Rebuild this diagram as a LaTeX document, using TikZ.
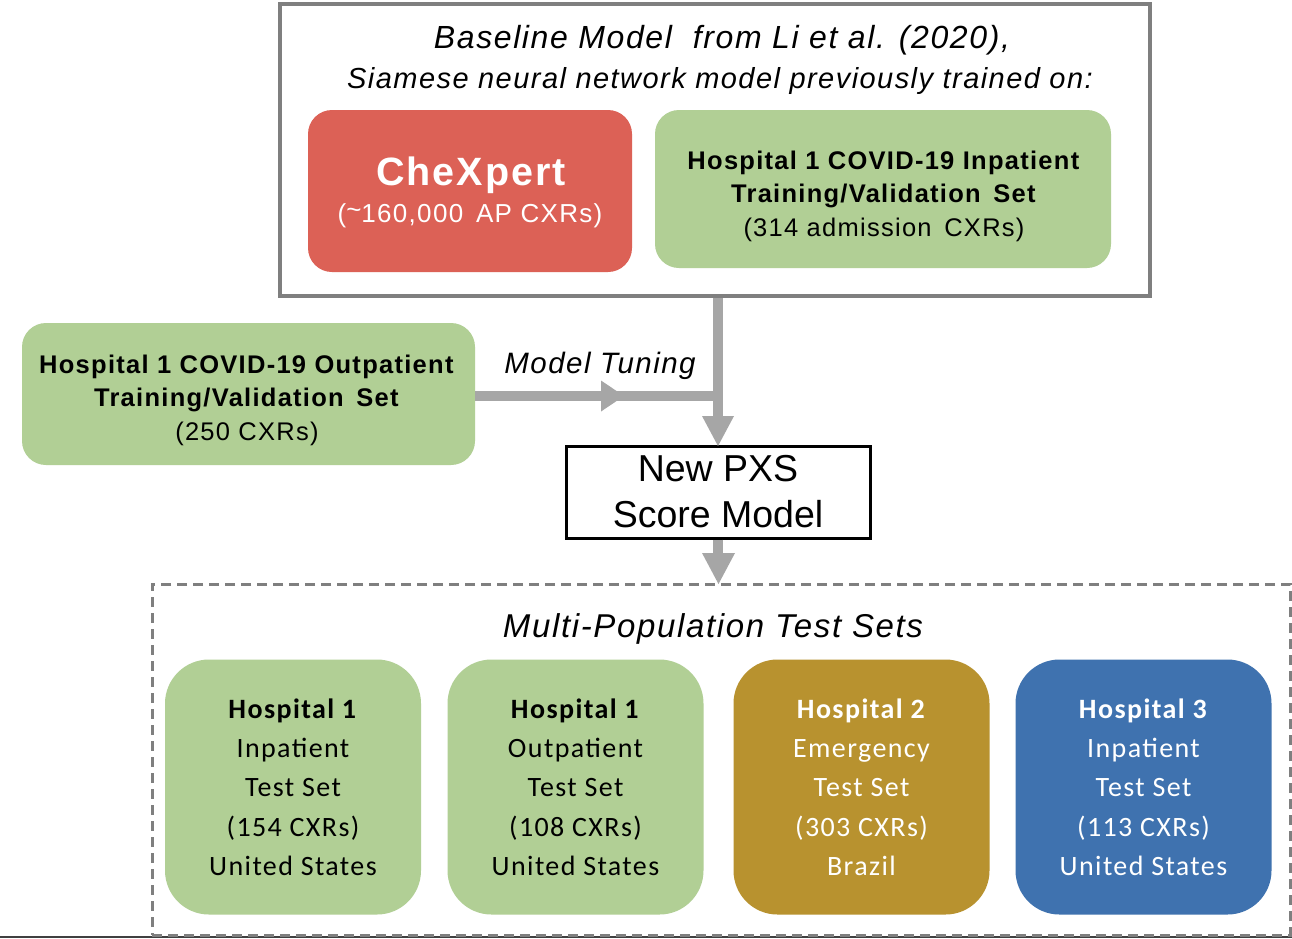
\documentclass[tikz,border=0pt]{standalone}
\usepackage{fontspec}
\setmainfont{Liberation Sans}[LetterSpace=5]
\newfontfamily\plainfont{Liberation Sans}
\newfontfamily\calfont{Carlito}[LetterSpace=5]
\usetikzlibrary{arrows.meta}
\definecolor{boxgray}{HTML}{7F7F7F}
\definecolor{arrgray}{HTML}{A6A6A6}
\definecolor{cxred}{HTML}{DC6156}
\definecolor{hgreen}{HTML}{B1CF95}
\definecolor{hgold}{HTML}{B8922F}
\definecolor{hblue}{HTML}{3F72AF}
\tikzset{
  rbox/.style={rounded corners=24pt, inner sep=0pt},
  lbl/.style={inner sep=0pt, align=center},
  testbox/.style={rounded corners=44pt, inner sep=0pt, align=center,
     minimum width=256pt, minimum height=255pt, font=\calfont\fontsize{28}{39.3}\selectfont},
  garrow/.style={draw=arrgray, line width=10pt},
  ghead/.style={fill=arrgray, draw=none},
}
\begin{document}
\begin{tikzpicture}[x=1pt,y=-1pt]
\useasboundingbox (0,0) rectangle (1292,938);
\fill[white] (0,0) rectangle (1292,938);
\fill[black!75] (0,935.5) rectangle (1292,938);

% top box
\node[draw=boxgray, line width=4pt, minimum width=870pt, minimum height=292pt, inner sep=0pt] (top) at (715,150) {};
\node[lbl, font=\itshape\fontsize{32}{36}\selectfont] (t1) at (722,40) {Baseline Model \ from Li et al. (2020),};
\node[lbl, font=\itshape\fontsize{29}{34}\selectfont] (t2) at (720,81) {Siamese neural network model previously trained on:};

\node[rbox, fill=cxred, minimum width=324pt, minimum height=162pt] (chex) at (470,191) {};
\node[lbl, text=white, font=\bfseries\fontsize{39.5}{44}\selectfont] (chext) at (471,175) {CheXpert};
\node[lbl, text=white, font=\fontsize{26}{30}\selectfont] (chexn) at (470,216) {(\raisebox{0.15em}{\textasciitilde}160,000 \,AP CXRs)};

\node[rbox, fill=hgreen, minimum width=456pt, minimum height=158pt] (inp) at (883,189) {};
\node[lbl, font=\fontsize{25.5}{33.5}\selectfont] (inpt) at (884,196)
 {\textbf{Hospital 1 COVID-19 Inpatient}\\\textbf{Training/Validation \,Set}\\(314 admission \,CXRs)};

% outpatient
\node[rbox, fill=hgreen, minimum width=453pt, minimum height=142pt] (outp) at (248.5,394) {};
\node[lbl, font=\fontsize{25.5}{33.5}\selectfont] (outpt) at (247,400)
 {\textbf{Hospital 1 COVID-19 Outpatient}\\\textbf{Training/Validation \,Set}\\(250 CXRs)};

\node[lbl, font=\itshape\fontsize{29.5}{34}\selectfont] (tune) at (600,366) {Model Tuning};

% PXS box
\node[draw=black, line width=3pt, minimum width=304pt, minimum height=92pt, inner sep=0pt, align=center,
  font=\plainfont\fontsize{37.5}{46}\selectfont] (pxs) at (718,492) {New PXS\\Score Model};

% dashed box
\node[draw=boxgray, line width=3pt, dash pattern=on 10pt off 6pt, minimum width=1138pt, minimum height=351pt, inner sep=0pt] (test) at (721,759.5) {};
\node[lbl, font=\itshape\fontsize{33}{36}\selectfont] (tt) at (713,629) {Multi-Population Test Sets};

\node[testbox, fill=hgreen] (b1) at (293,787) {\textbf{Hospital 1}\\Inpatient\\Test Set\\(154 CXRs)\\United States};
\node[testbox, fill=hgreen] (b2) at (575.5,787) {\textbf{Hospital 1}\\Outpatient\\Test Set\\(108 CXRs)\\United States};
\node[testbox, fill=hgold, text=white] (b3) at (861.5,787) {\textbf{Hospital 2}\\Emergency\\Test Set\\(303 CXRs)\\Brazil};
\node[testbox, fill=hblue, text=white] (b4) at (1143.5,787) {\textbf{Hospital 3}\\Inpatient\\Test Set\\(113 CXRs)\\United States};

% arrows
\coordinate (j) at (718,396);
\coordinate (tip1) at (718,446);
\draw[garrow] (top.south -| j) -- (718,418);
\fill[ghead] (702,416) -- (734,416) -- (tip1) -- cycle;
\draw[garrow] (outp.east |- j) -- (723,396);
\fill[ghead] (601,380.5) -- (624,396) -- (601,411.5) -- cycle;

\draw[garrow] (pxs.south) -- (718,556);
\fill[ghead] (702,553) -- (735,553) -- (718.5,584) -- cycle;
\end{tikzpicture}
\end{document}
